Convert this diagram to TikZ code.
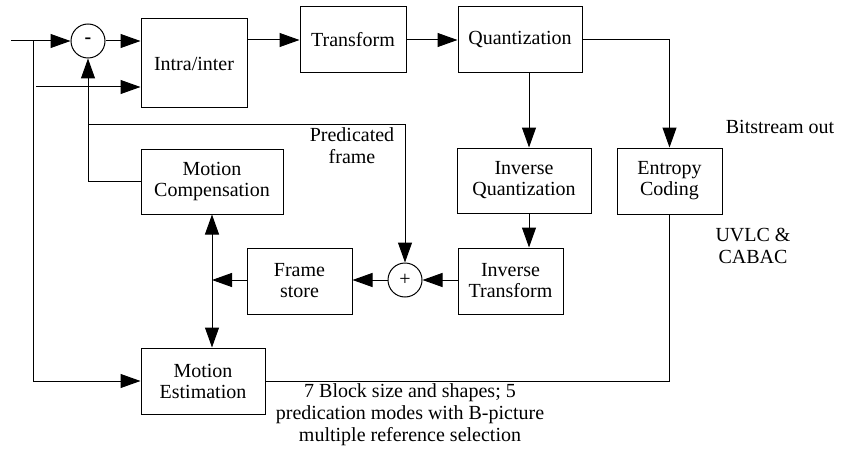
\documentclass[tikz,border=0pt]{standalone}
\usepackage{fontspec}
\setmainfont{Liberation Serif}
\usetikzlibrary{arrows.meta}

\tikzset{
   block/.style 2 args={draw, shape=rectangle, line width=0.5pt, align=center,
     minimum width=#1*0.5pt, minimum height=#2*0.5pt, inner sep=0pt,
     font=\fontsize{10}{10.5}\selectfont},
   adder/.style={draw, shape=circle, line width=0.5pt, minimum size=17pt,
     inner sep=0pt, font=\fontsize{10}{10}\selectfont},
   note/.style={align=center, inner sep=0pt, font=\fontsize{10}{11}\selectfont},
   arr/.style={-{Triangle[length=10pt,width=7pt]}, line width=0.5pt},
   darr/.style={{Triangle[length=10pt,width=7pt]}-{Triangle[length=10pt,width=7pt]}, line width=0.5pt}
}

\begin{document}
\begin{tikzpicture}[x=0.5pt,y=-0.5pt]
   \useasboundingbox (0,0) rectangle (850,449);

   % encoder blocks
   \path (194,63.5) node[block={106}{89}] (intra) {Intra/inter};
   \path (353,40) node[block={106}{66}] (trans) {Transform};
   \path (520,40) node[block={124}{66}] (quant) {Quantization};
   \path (669.5,181) node[block={105}{66}] (entropy) {Entropy\\Coding};
   \path (524,180.5) node[block={134}{65}] (iquant) {Inverse\\Quantization};
   \path (510.5,281) node[block={105}{66}] (itrans) {Inverse\\Transform};
   \path (299.5,281) node[block={105}{66}] (fstore) {Frame\\store};
   \path (212,181.5) node[block={142}{65}] (mcomp) {Motion\\Compensation};
   \path (203,381) node[block={124}{66}] (mest) {Motion\\Estimation};

   % sum points
   \path (88,41) node[adder] (minus) {\textbf{-}};
   \path (405,280) node[adder] (plus) {+};

   % free ends
   \coordinate (in) at (11,41);
   \coordinate (split) at (33,41);
   \coordinate (in2) at (36,87);
   \coordinate (pf) at (88,124);
   \coordinate (iq) at (529,0);

   % forward path
   \draw[arr] (in) -- (minus.west);
   \draw[arr] (split) |- (mest.west);
   \draw[arr] (in2) -- (in2 -| intra.west);
   \draw[arr] (minus.east) -- (minus.east -| intra.west);
   \draw[arr] (trans.west -| intra.east) -- (trans.west);
   \draw[arr] (trans.east) -- (quant.west);
   \draw[arr] (quant.east) -| (entropy.north);
   \draw (entropy.south) |- (mest.east);

   % reconstruction loop
   \draw[arr] (quant.south -| iq) -- (iquant.north -| iq);
   \draw[arr] (iquant.south -| iq) -- (itrans.north -| iq);
   \draw[arr] (itrans.west |- plus) -- (plus.east);
   \draw[arr] (plus.west) -- (plus.west -| fstore.east);
   \draw[arr] (fstore.west |- plus) -- (plus -| mcomp.south);
   \draw[darr] (mcomp.south) -- (mcomp.south |- mest.north);
   \draw[arr] (mcomp.west) -| (minus.south);
   \draw[arr] (pf) -| (plus.north);

   % labels
   \path (352,146) node[note] (pflabel) {Predicated\\frame};
   \path (780,127) node[note] (bsout) {Bitstream out};
   \path (753,246) node[note] (uvlc) {UVLC \&\\CABAC};
   \path (410,415) node[note] (modes) {7 Block size and shapes; 5\\predication modes with B-picture\\multiple reference selection};
\end{tikzpicture}
\end{document}
